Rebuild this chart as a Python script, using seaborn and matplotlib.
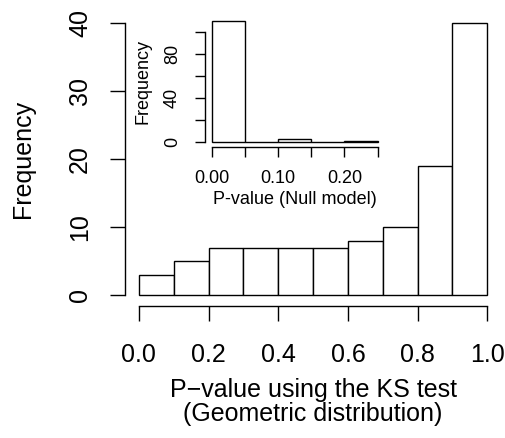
import numpy as np
import matplotlib
matplotlib.use("Agg")
import matplotlib.pyplot as plt
import seaborn as sns

# main histogram: KS p-values, bins of 0.1
main_edges = [0.0, 0.1, 0.2, 0.3, 0.4, 0.5, 0.6, 0.7, 0.8, 0.9, 1.0]
main_counts = [3, 5, 7, 7, 7, 7, 8, 10, 19, 40]
main_xticks = [0.0, 0.2, 0.4, 0.6, 0.8, 1.0]
main_yticks = [0, 10, 20, 30, 40]

# inset: null model p-values, bins of 0.05
null_edges = [0.0, 0.05, 0.10, 0.15, 0.20, 0.25]
null_counts = [110, 0, 2, 0, 1]
null_xticks = [0.0, 0.05, 0.10, 0.15, 0.20, 0.25]
null_xlabels = ["0.00", "", "0.10", "", "0.20", ""]
null_yticks = [0, 20, 40, 60, 80, 100]
null_ylabels = ["0", "", "40", "", "80", ""]

sns.set_style("ticks")
plt.rcParams["font.family"] = ["Liberation Sans", "DejaVu Sans"]
plt.rcParams["text.color"] = "black"
plt.rcParams["axes.labelcolor"] = "black"
plt.rcParams["xtick.color"] = "black"
plt.rcParams["ytick.color"] = "black"

fig = plt.figure(figsize=(5.06, 4.38), dpi=100)
ax = fig.add_axes([0.247, 0.3014, 0.7436, 0.6703])


def r_hist(ax, edges, counts, xticks, yticks, xlabels, ylabels, fs, tlen, pad_x, pad_y):
    # R-style histogram: open axes, axis lines only across the tick range
    mids = [(a + b) / 2 for a, b in zip(edges[:-1], edges[1:])]
    sns.histplot(x=mids, weights=counts, bins=edges, ax=ax, color="white",
                 edgecolor="black", linewidth=1.0, alpha=1)
    span = edges[-1] - edges[0]
    ax.set_xlim(edges[0] - 0.04 * span, edges[-1] + 0.04 * span)
    top = max(counts)
    ax.set_ylim(-0.04 * top, top * 1.04)
    ax.set_xticks(xticks)
    ax.set_xticklabels(xlabels, fontsize=fs)
    ax.set_yticks(yticks)
    ax.set_yticklabels(ylabels, fontsize=fs, rotation=90, va="center")
    ax.tick_params(axis="x", length=tlen, width=1, pad=pad_x)
    ax.tick_params(axis="y", length=tlen, width=1, pad=pad_y)
    for s in ["top", "right"]:
        ax.spines[s].set_visible(False)
    ax.spines["bottom"].set_bounds(xticks[0], xticks[-1])
    ax.spines["left"].set_bounds(yticks[0], yticks[-1])
    for s in ["bottom", "left"]:
        ax.spines[s].set_linewidth(1)
        ax.spines[s].set_color("black")
    ax.set_facecolor("none")


r_hist(ax, main_edges, main_counts, main_xticks, main_yticks,
       ["%.1f" % t for t in main_xticks], [str(t) for t in main_yticks],
       18, 10.8, 16, 13)
ax.set_ylim(-1.6, 41.6)
ax.set_xlabel("P\u2212value using the KS test\n(Geometric distribution)",
              fontsize=18, labelpad=8, linespacing=1.0)
ax.set_ylabel("Frequency", fontsize=18, labelpad=24)

inset = fig.add_axes([0.405, 0.6655, 0.3545, 0.2982])
r_hist(inset, null_edges, null_counts, null_xticks, null_yticks,
       null_xlabels, null_ylabels, 13, 7.2, 9.5, 10)
inset.set_xlabel("P-value (Null model)", fontsize=13, labelpad=3)
inset.set_ylabel("Frequency", fontsize=13, labelpad=9)

fig.savefig("out.png", dpi=100)
